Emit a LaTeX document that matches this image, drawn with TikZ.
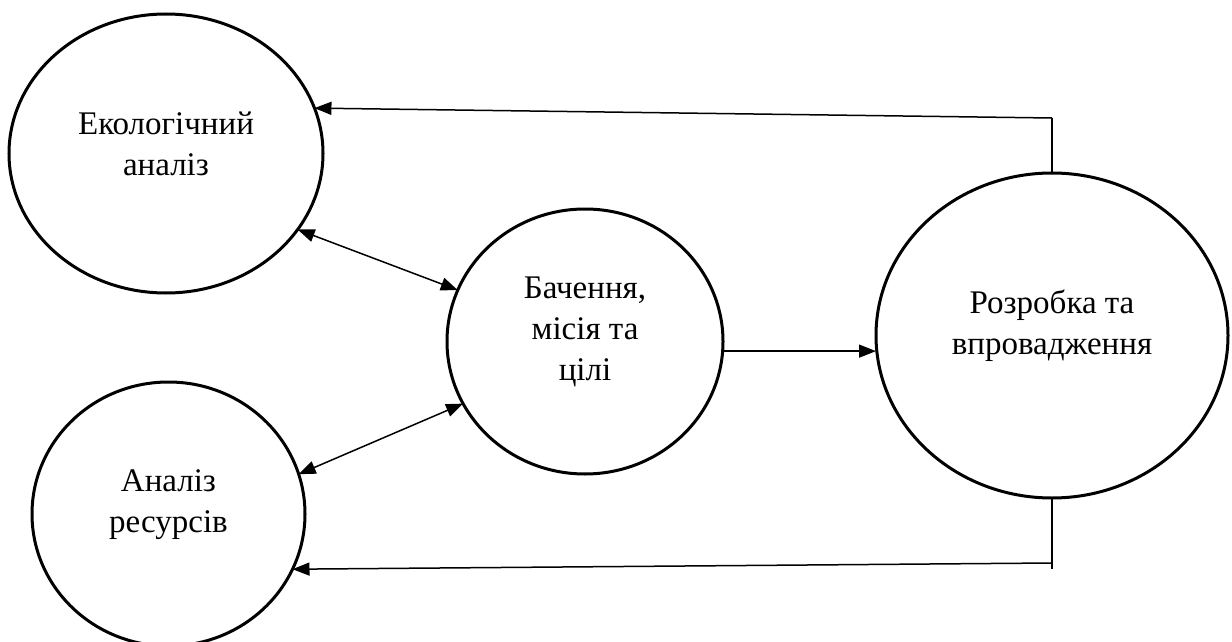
\documentclass[tikz,border=0pt]{standalone}
\usepackage{fontspec}
\setmainfont{Liberation Serif}
\usetikzlibrary{shapes.geometric,arrows.meta}
\begin{document}
\begin{tikzpicture}[x=0.5pt,y=-0.5pt,
  bubble/.style={ellipse,draw,line width=1.5pt,inner sep=0pt,outer sep=0pt},
  caption/.style={align=center,font=\fontsize{16.5pt}{20.5pt}\selectfont,inner sep=0pt},
  link/.style={line width=0.75pt},
  tip/.style={-{Triangle[length=8.5pt,width=6.5pt]}},
  both/.style={{Triangle[length=8.5pt,width=6.5pt]}-{Triangle[length=8.5pt,width=6.5pt]}}]
\useasboundingbox (0,0) rectangle (1232,642);

% the four stages
\node[bubble,minimum width=157pt,minimum height=139.5pt] (eco) at (166,153.5) {};
\node[bubble,minimum width=136.5pt,minimum height=132pt] (res) at (168.5,514) {};
\node[bubble,minimum width=138pt,minimum height=132.5pt] (vis) at (585,341.5) {};
\node[bubble,minimum width=176pt,minimum height=162.5pt] (dev) at (1052,335.5) {};

% their labels, set a little above the centres
\node[caption] at ([yshift=4.75pt]eco.center) {Екологічний\\аналіз};
\node[caption] at ([yshift=4.75pt]res.center) {Аналіз\\ресурсів};
\node[caption] at ([yshift=4.75pt]vis.center) {Бачення,\\місія та\\цілі};
\node[caption] at ([yshift=4.75pt]dev.center) {Розробка та\\впровадження};

% analyses <-> vision
\draw[link,both] (eco.-30.7) -- (vis.158);
\draw[link,both] (res.17.7) -- (vis.-153);

% vision -> development
\draw[link,tip] (vis.-4) -- (vis.-4 -| dev.west);

% feedback loops from development back to the analyses
\coordinate (topbend) at (1052,118);
\draw[link] (dev.north) -- (topbend);
\draw[link,tip] (topbend) -- (eco.17.9);

\coordinate (lowbend) at (1052,563);
\coordinate (lowend) at (1052,569);
\draw[link] (dev.south) -- (lowend);
\draw[link,tip] (lowbend) -- (res.-24);
\end{tikzpicture}
\end{document}
